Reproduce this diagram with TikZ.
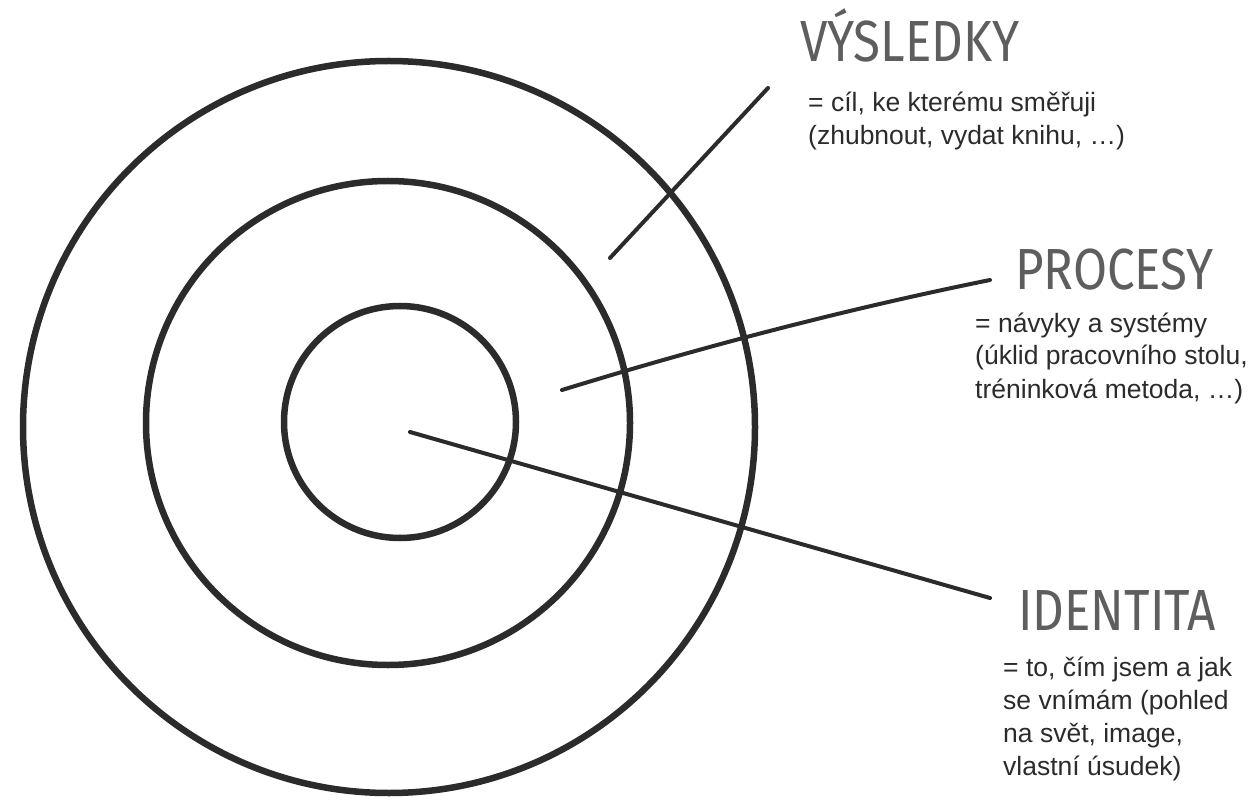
\documentclass[tikz,border=0pt]{standalone}
\usepackage{fontspec}
\setmainfont{Liberation Sans}
\newfontfamily\headfont[FakeStretch=0.85]{Fira Sans}
\usepackage{tikz}
\usetikzlibrary{calc}
\definecolor{ink}{HTML}{2B2B2B}
\definecolor{headgray}{HTML}{5E5E5E}

\begin{document}
\begin{tikzpicture}[x=1pt,y=-1pt,
    ring/.style={draw=ink,line width=6.5pt},
    pointer/.style={draw=ink,line width=4pt,line cap=round},
    heading/.style={anchor=base west,inner sep=0pt,text=headgray,font=\headfont\fontsize{58}{58}\selectfont},
    note/.style={anchor=base west,inner sep=0pt,align=left,text=ink,font=\fontsize{26.5}{33}\selectfont}]
        \useasboundingbox (0,0) rectangle (1256,802);
        % Draw the rings
        \draw[ring] (389,427) circle (366);
        \draw[ring] (388,423) circle (242);
        \draw[ring] (400,422) circle (116);
        % Ends of the pointers
        \coordinate (resfoot) at (610,258);
        \coordinate (reshead) at (768,88);
        \coordinate (profoot) at (562,390);
        \coordinate (prohead) at (990,280);
        \coordinate (idfoot) at (410,432);
        \coordinate (idhead) at (990,598);
        % Labels (notes are placed at the baseline of their last line)
        \node[heading] (res) at (800,62) {VÝSLEDKY};
        \node[note] (resnote) at (808,145) {= cíl, ke kterému směřuji\\(zhubnout, vydat knihu, …)};
        \node[heading] (pro) at (1015,290) {PROCESY};
        \node[note] (pronote) at (975,398) {= návyky a systémy\\(úklid pracovního stolu,\\tréninková metoda, …)};
        \node[heading] (id) at (1018,630) {IDENTITA};
        \node[note] (idnote) at (1003,775) {= to, čím jsem a jak\\se vnímám (pohled\\na svět, image,\\vlastní úsudek)};
        % Pointers
        \draw[pointer] (resfoot) -- (reshead);
        \draw[pointer] (profoot) .. controls (705,346) and (847,309) .. (prohead);
        \draw[pointer] (idfoot) -- (idhead);
\end{tikzpicture}
\end{document}
